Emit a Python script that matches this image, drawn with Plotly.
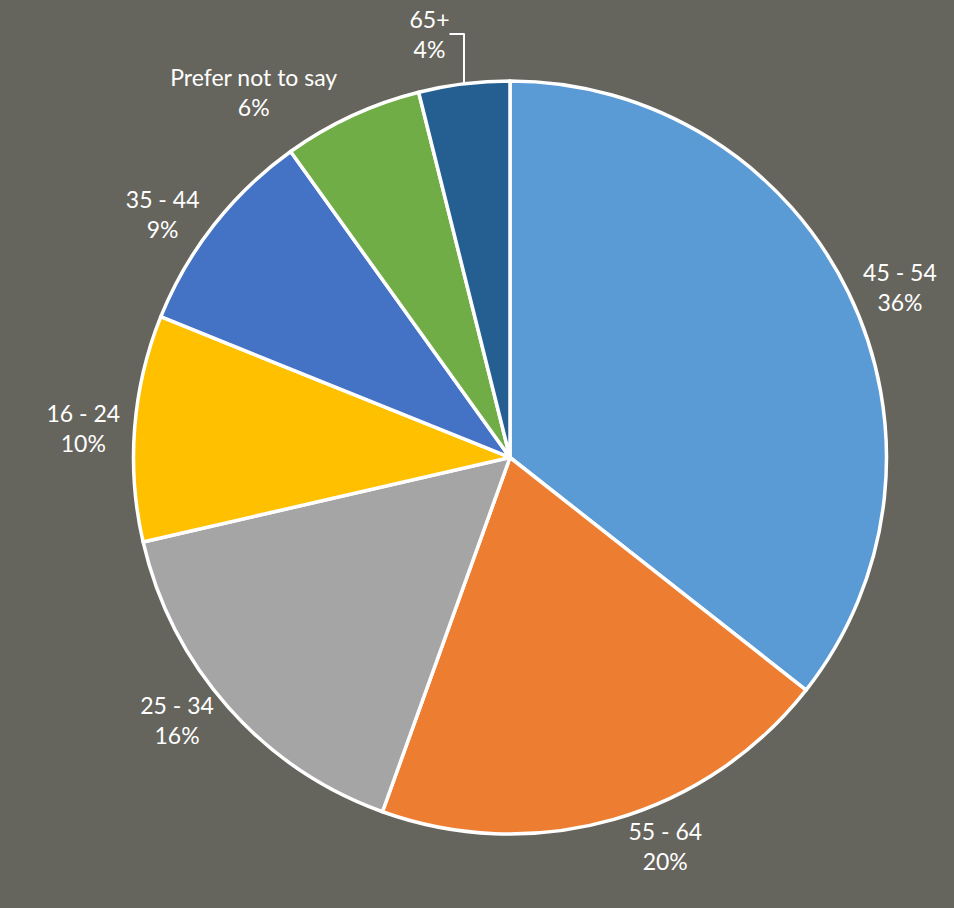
import plotly.graph_objects as go

labels = ["45 - 54", "55 - 64", "25 - 34", "16 - 24", "35 - 44", "Prefer not to say", "65+"]
values = [35.6, 19.9, 15.9, 9.7, 9.0, 6.0, 3.9]
colors = ["#5B9BD5", "#ED7D31", "#A5A5A5", "#FFC000", "#4472C4", "#70AD47", "#255E91"]

fig = go.Figure(go.Pie(
    labels=labels,
    values=values,
    sort=False,
    direction="clockwise",
    rotation=0,
    marker=dict(colors=colors, line=dict(color="white", width=3.5)),
    textposition="outside",
    texttemplate="%{label}<br>%{percent:.0%}",
    textfont=dict(family="Lato", size=23, color="white"),
    showlegend=False,
    hoverinfo="label+percent",
))

fig.update_layout(
    width=954, height=908,
    paper_bgcolor="#66655D",
    plot_bgcolor="#66655D",
    margin=dict(l=131, r=65, t=76, b=74),
)

fig.write_html("out.html", config={"displayModeBar": False},
               post_script="document.body.style.margin='0';")
